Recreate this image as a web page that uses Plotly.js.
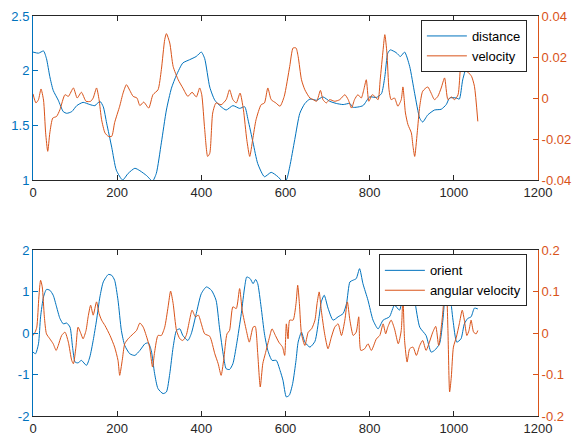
<!DOCTYPE html>
<html>
<head>
<meta charset="utf-8">
<script src="https://cdn.plot.ly/plotly-3.0.1.min.js"></script>
<style>html,body{margin:0;padding:0;background:#fff;}#chart{width:574px;height:436px;}</style>
</head>
<body>
<div id="chart"></div>
<script>
// ---- top panel: distance (left axis) and velocity (right axis)
const distX = [0,13,25,32,40,48,60,72,80,92,104,119,135,147,159,167,175,187,198,213,226,242,254,270,284,293,305,317,329,341,356,372,388,400,408,420,432,447,459,475,491,503,511,523,534,550,566,582,594,602,610,622,634,646,658,674,689,705,721,737,753,760,784,800,816,828,836,843,849,863,873,883,895,907,919,926,938,954,970,982,990,1006,1013,1021,1033,1040];
const distY = [2.17,2.16,2.18,2.11,1.945,1.82,1.73,1.625,1.61,1.625,1.68,1.71,1.69,1.68,1.72,1.67,1.52,1.30,1.09,1.0,1.06,1.107,1.085,1.04,0.99,1.06,1.34,1.64,1.84,1.96,2.07,2.10,2.13,2.17,2.11,1.85,1.73,1.67,1.64,1.68,1.655,1.67,1.55,1.34,1.15,1.03,1.07,1.03,0.985,1.0,1.12,1.37,1.61,1.70,1.74,1.73,1.76,1.72,1.70,1.69,1.70,1.665,1.68,1.76,1.755,1.79,1.945,2.16,2.19,2.165,2.13,2.17,2.04,1.79,1.565,1.53,1.595,1.64,1.647,1.69,1.75,1.75,1.74,1.915,2.08,2.15];
const velX = [0,7,13,19,25,30,35,40,47,56,64,76,84,96,105,115,126,137,143,151,157,163,171,179,187,194,206,214,222,230,238,247,254,263,275,285,297,305,313,317,325,333,345,356,368,378,388,396,401,408,415,420,427,435,447,459,467,475,483,492,500,508,515,522,530,542,550,558,566,577,587,597,610,618,625,630,638,646,658,666,674,683,689,697,705,717,729,741,749,757,764,772,780,786,792,798,806,812,820,825,832,836,841,846,851,859,867,875,879,885,891,899,903,907,913,919,926,938,946,954,962,970,978,986,994,1002,1010,1016,1020,1027,1034,1042,1049,1057];
const velY = [0.002,-0.0024,-0.0008,0.0044,-0.001,-0.017,-0.026,-0.017,-0.0098,-0.009,-0.0057,0.0016,0.0008,0.0049,0,0.0028,-0.0016,-0.0016,0,0.0049,-0.0008,-0.0106,-0.017,-0.0187,-0.0187,-0.012,-0.004,0.0024,0.0065,0.0037,0.0008,0,-0.0037,-0.002,-0.0049,0.0016,0.004,0.0138,0.0285,0.0314,0.0268,0.0154,0.0089,0.0049,0.0008,0.0028,0.0005,0.0049,0.0016,-0.0154,-0.0285,-0.027,-0.0073,-0.0024,-0.0033,-0.0008,0.004,-0.0008,-0.0024,0.0024,-0.0057,-0.0203,-0.0285,-0.0203,-0.0106,-0.0033,-0.0024,0.0049,-0.0008,-0.0024,-0.004,0.0008,0.0154,0.0244,0.0244,0.0203,0.0089,0.004,0,-0.0008,-0.0016,0.0037,-0.0008,-0.0024,-0.0008,-0.0016,-0.0008,0.0016,-0.0008,-0.0049,-0.0008,0.0016,0,0.004,0.0089,-0.0016,0.0016,0.0008,-0.0008,0.0089,0.0236,0.0309,0.022,0.004,-0.0008,0,-0.004,-0.0008,0.0054,-0.0073,-0.013,-0.017,-0.0236,-0.0285,-0.017,-0.004,0.0033,0.0054,0.0024,-0.0008,0.0008,0.0049,0.0098,-0.0008,0.0005,-0.0008,0.0016,0.0154,0.0187,0.0138,0.0125,0.0106,0.0057,-0.0114];

// ---- bottom panel: orient (left axis) and angular velocity (right axis)
const oriX = [0,6,13,18,25,32,40,48,56,64,72,80,88,94,100,107,115,127,135,143,151,159,167,179,187,194,202,210,218,230,242,254,266,274,281,289,297,309,317,325,333,341,349,356,368,376,388,400,412,424,435,443,453,459,467,475,484,495,503,508,516,523,529,534,542,550,558,568,578,587,594,602,609,617,625,630,638,646,658,670,680,685,692,701,713,725,737,745,753,760,768,776,784,796,808,820,832,847,859,871,881,895,907,919,934,946,954,966,974,982,990,998,1007,1017,1025,1033,1041,1049,1057];
const oriY = [-0.46,-0.5,-0.26,0.39,0.87,1.05,1.03,0.91,0.63,0.35,0.22,0.24,0.14,-0.34,-0.70,-0.72,-0.66,-0.78,-0.58,-0.18,0.31,0.87,1.23,1.41,1.39,1.27,0.79,0.06,-0.30,-0.50,-0.54,-0.42,-0.26,-0.24,-0.42,-0.98,-1.34,-1.46,-1.42,-0.98,-0.34,0.06,0.10,-0.06,-0.18,-0.02,0.47,0.95,1.11,1.03,0.79,0.14,-0.58,-0.86,-0.88,-0.74,-0.26,0.47,1.11,1.35,1.31,1.19,1.29,1.19,0.63,-0.02,-0.42,-0.66,-0.66,-0.90,-1.14,-1.54,-1.50,-1.22,-0.66,-0.22,0.02,-0.22,-0.34,-0.20,0.40,0.75,0.91,0.6,0.31,0.39,0.47,0.71,1.23,1.27,1.31,1.55,1.19,0.79,0.31,0.10,0.31,0.39,0.67,0.55,1.11,1.43,0.79,0.14,-0.06,-0.46,-0.42,-0.26,0.31,1.11,0.95,0.31,-0.22,-0.14,0.22,0.35,0.39,0.60,0.58];
const angX = [0,5,9,14,18,22,27,32,40,48,55,60,68,76,84,92,96,102,107,114,119,126,131,137,143,151,157,163,171,183,194,202,206,212,218,226,238,246,254,262,269,277,284,289,297,305,313,321,327,333,341,349,356,364,372,378,386,393,400,408,420,432,440,447,453,461,467,475,483,491,497,507,514,523,528,534,540,546,552,562,568,576,584,587,593,598,602,606,610,618,625,629,633,638,646,654,662,670,675,680,685,693,701,709,717,725,733,741,747,753,761,768,774,779,788,796,804,816,824,832,838,843,851,859,868,875,879,883,889,895,903,911,919,926,934,942,950,957,964,972,978,982,986,990,994,999,1006,1013,1020,1025,1031,1036,1041,1047,1053,1057];
const angY = [-0.006,0.002,0.014,0.087,0.127,0.111,0.039,-0.002,-0.014,-0.026,-0.042,-0.030,-0.006,0.002,-0.022,-0.066,-0.074,-0.034,0.014,-0.002,-0.014,0.006,0.039,0.067,0.043,0.075,0.047,0.031,0.018,-0.006,-0.034,-0.066,-0.102,-0.066,-0.026,-0.014,-0.002,0.006,0.024,0.014,-0.006,-0.034,-0.082,-0.046,-0.006,-0.006,0.014,0.063,0.101,0.071,0.006,-0.014,-0.018,-0.006,0.031,0.055,0.039,0.043,0.022,-0.002,-0.008,-0.050,-0.074,-0.102,-0.066,-0.002,0.006,0.063,0.059,0.107,0.055,0.006,-0.022,0.014,0.016,-0.050,-0.130,-0.074,-0.050,-0.010,0.010,-0.006,-0.022,-0.026,-0.034,-0.054,0.022,-0.014,0.031,0.031,0.071,0.115,0.071,-0.002,-0.030,0.002,0.010,0.031,0.071,0.099,0.055,-0.002,-0.038,-0.010,0.014,0.022,-0.006,0.031,0.075,0.031,-0.006,0.002,0.039,-0.042,-0.038,-0.026,-0.042,-0.014,-0.006,0.022,-0.002,0.014,0.031,0.010,-0.026,0.006,0.087,-0.018,-0.070,-0.038,-0.034,-0.054,-0.030,-0.018,-0.042,-0.022,0.002,0.016,-0.030,0.031,0.095,0.111,0.006,-0.142,-0.106,-0.034,-0.010,0.022,0.055,0.031,-0.006,0.006,0.031,0.002,-0.002,0.006];

// ---- tick labels
const xTickVals = [0,200,400,600,800,1000,1200];
const distTickVals = [1,1.5,2,2.5];
const distTickText = ["1","1.5","2","2.5"];
const velTickVals = [-0.04,-0.02,0,0.02,0.04];
const velTickText = ["-0.04","-0.02","0","0.02","0.04"];
const oriTickVals = [-2,-1,0,1,2];
const oriTickText = ["-2","-1","0","1","2"];
const angTickVals = [-0.2,-0.1,0,0.1,0.2];
const angTickText = ["-0.2","-0.1","0","0.1","0.2"];

const BLUE = '#0072BD', ORANGE = '#D95319', DARK = '#262626';
const lineStyle = (c) => ({color: c, width: 1, shape: 'spline', smoothing: 0.6});

const traces = [
  {x: distX, y: distY, name: 'distance', type: 'scatter', mode: 'lines', line: lineStyle(BLUE), xaxis: 'x', yaxis: 'y', legend: 'legend'},
  {x: velX, y: velY, name: 'velocity', type: 'scatter', mode: 'lines', line: lineStyle(ORANGE), xaxis: 'x', yaxis: 'y2', legend: 'legend'},
  {x: oriX, y: oriY, name: 'orient', type: 'scatter', mode: 'lines', line: lineStyle(BLUE), xaxis: 'x2', yaxis: 'y3', legend: 'legend2'},
  {x: angX, y: angY, name: 'angular velocity', type: 'scatter', mode: 'lines', line: lineStyle(ORANGE), xaxis: 'x2', yaxis: 'y4', legend: 'legend2'}
];

const tickFont = (c) => ({family: 'Liberation Sans, Arial, sans-serif', size: 13, color: c});
const xAx = (anchor) => ({
  anchor: anchor, domain: [0, 1], range: [0, 1200], tickvals: xTickVals,
  ticks: 'inside', ticklen: 5, tickcolor: DARK, tickwidth: 1,
  showline: true, linecolor: DARK, linewidth: 1, mirror: 'ticks',
  showgrid: false, zeroline: false, tickfont: tickFont(DARK), ticklabelstandoff: 0
});
const yAx = (anchor, dom, rng, tv, tt, col, side, over) => {
  const a = {
    anchor: anchor, range: rng, tickvals: tv, ticktext: tt, side: side,
    ticks: 'inside', ticklen: 5, tickcolor: col, tickwidth: 1,
    showline: true, linecolor: col, linewidth: 1, mirror: false,
    showgrid: false, zeroline: false, tickfont: tickFont(col)
  };
  if (over) a.overlaying = over; else a.domain = dom;
  return a;
};

const legendBox = (y) => ({
  x: 0.978, xanchor: 'right', y: y, yanchor: 'middle',
  bgcolor: '#ffffff', bordercolor: DARK, borderwidth: 1,
  font: {family: 'Liberation Sans, Arial, sans-serif', size: 13, color: '#000000'},
  tracegroupgap: 0, itemwidth: 40
});

const layout = {
  width: 574, height: 436,
  margin: {l: 33, r: 36, t: 16, b: 20},
  paper_bgcolor: '#ffffff', plot_bgcolor: '#ffffff',
  showlegend: true,
  font: {family: 'Liberation Sans, Arial, sans-serif', size: 13, color: DARK},
  xaxis: xAx('y'),
  xaxis2: xAx('y3'),
  yaxis: yAx('x', [0.59, 1], [1, 2.5], distTickVals, distTickText, BLUE, 'left'),
  yaxis2: yAx('x', null, [-0.04, 0.04], velTickVals, velTickText, ORANGE, 'right', 'y'),
  yaxis3: yAx('x2', [0, 0.415], [-2, 2], oriTickVals, oriTickText, BLUE, 'left'),
  yaxis4: yAx('x2', null, [-0.2, 0.2], angTickVals, angTickText, ORANGE, 'right', 'y3'),
  legend: legendBox(0.925),
  legend2: legendBox(0.339)
};

Plotly.newPlot('chart', traces, layout, {displayModeBar: false, staticPlot: true});
</script>
</body>
</html>
